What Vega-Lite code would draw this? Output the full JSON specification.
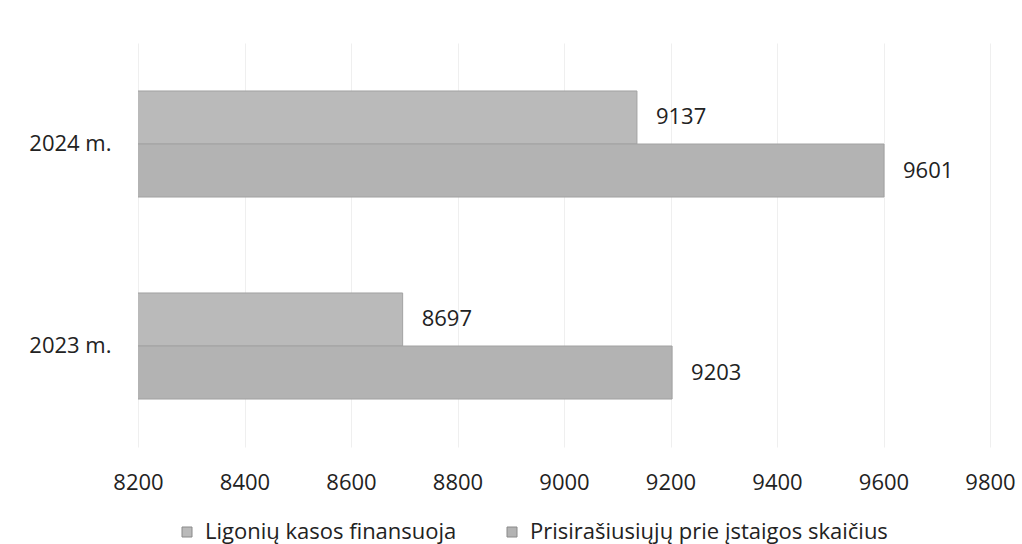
{
  "$schema": "https://vega.github.io/schema/vega-lite/v6.json",
  "width": 852,
  "height": 404,
  "autosize": {"type": "none"},
  "padding": {"left": 138, "top": 43, "right": 32, "bottom": 97},
  "background": "white",
  "config": {"view": {"stroke": null}, "font": "Open Sans"},
  "data": {
    "values": [
      {"year": "2024 m.", "series": "Ligonių kasos finansuoja", "value": 9137},
      {"year": "2024 m.", "series": "Prisirašiusiųjų prie įstaigos skaičius", "value": 9601},
      {"year": "2023 m.", "series": "Ligonių kasos finansuoja", "value": 8697},
      {"year": "2023 m.", "series": "Prisirašiusiųjų prie įstaigos skaičius", "value": 9203}
    ]
  },
  "encoding": {
    "y": {
      "field": "year",
      "type": "nominal",
      "sort": ["2024 m.", "2023 m."],
      "scale": {"paddingInner": 0.475, "paddingOuter": 0.2375},
      "axis": {
        "title": null,
        "domain": false,
        "ticks": false,
        "labelFontSize": 22,
        "labelColor": "#222222",
        "labelPadding": 27
      }
    },
    "yOffset": {
      "field": "series",
      "sort": ["Ligonių kasos finansuoja", "Prisirašiusiųjų prie įstaigos skaičius"],
      "scale": {"paddingInner": 0, "paddingOuter": 0}
    },
    "x": {
      "field": "value",
      "type": "quantitative",
      "scale": {"domain": [8200, 9800], "zero": false, "nice": false},
      "axis": {
        "title": null,
        "values": [8200, 8400, 8600, 8800, 9000, 9200, 9400, 9600, 9800],
        "format": "d",
        "domain": false,
        "ticks": false,
        "grid": true,
        "gridColor": "#efefef",
        "labelFlush": false,
        "labelFontSize": 22,
        "labelColor": "#222222",
        "labelPadding": 25
      }
    }
  },
  "layer": [
    {
      "mark": {"type": "bar", "clip": true, "stroke": "#a2a2a2", "strokeWidth": 1},
      "encoding": {
        "color": {
          "field": "series",
          "type": "nominal",
          "sort": ["Ligonių kasos finansuoja", "Prisirašiusiųjų prie įstaigos skaičius"],
          "scale": {"range": ["#bababa", "#b3b3b3"]},
          "legend": {
            "title": null,
            "orient": "none",
            "direction": "horizontal",
            "legendX": 38,
            "legendY": 478,
            "symbolType": "square",
            "symbolSize": 100,
            "symbolStrokeColor": "#8a8a8a",
            "symbolStrokeWidth": 1,
            "labelFontSize": 22,
            "labelColor": "#222222",
            "labelOffset": 7,
            "columnPadding": 44,
            "labelLimit": 500
          }
        }
      }
    },
    {
      "mark": {"type": "text", "align": "left", "baseline": "middle", "dx": 19, "fontSize": 22, "color": "#222222"},
      "encoding": {"text": {"field": "value", "type": "quantitative", "format": "d"}}
    }
  ]
}
